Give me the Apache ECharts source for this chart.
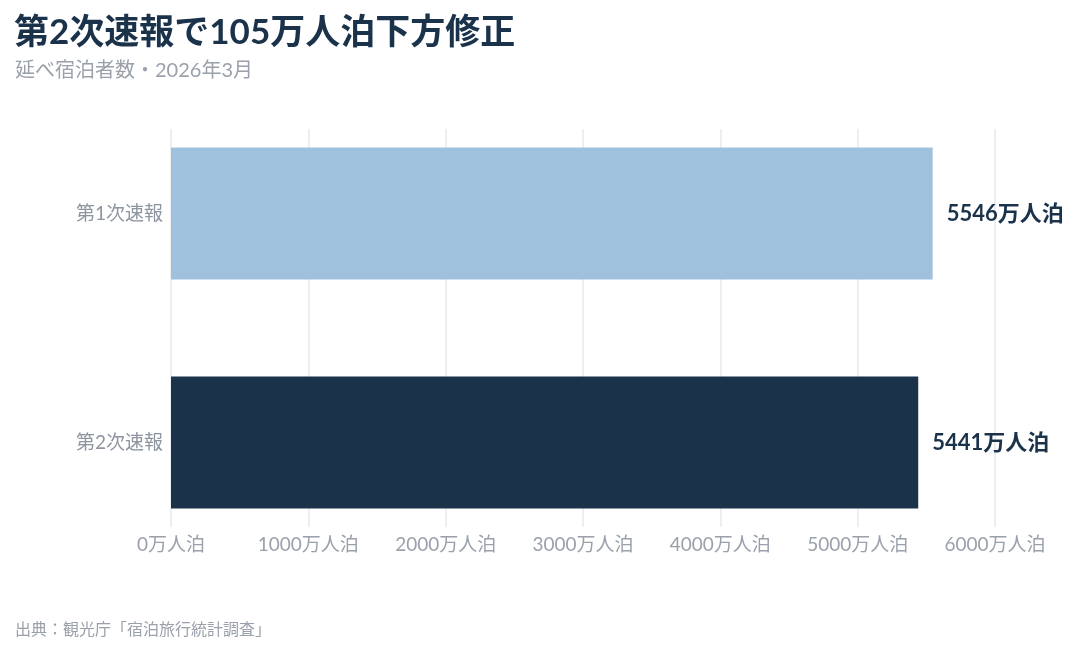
<!DOCTYPE html>
<html><head><meta charset="utf-8">
<script src="https://cdn.jsdelivr.net/npm/echarts@6/dist/echarts.min.js"></script>
<style>html,body{margin:0;padding:0;background:#fff}#c{width:1086px;height:649px}</style>
</head><body><div id="c"></div>
<script>
const categories = ['第1次速報', '第2次速報'];
const values = [5546, 5441];
const barColors = ['#a0c1dd', '#1b324b'];
const xTicks = [0, 1000, 2000, 3000, 4000, 5000, 6000];
const unit = '万人泊';
const FONT = 'Lato, "Noto Sans CJK JP", sans-serif';

const chart = echarts.init(document.getElementById('c'), null, {renderer: 'canvas'});
chart.setOption({
  backgroundColor: '#ffffff',
  animation: false,
  title: [
    {text: '第2次速報で105万人泊下方修正', left: 9, top: 10,
     textStyle: {fontFamily: FONT, fontSize: 35, fontWeight: 'bold', color: '#1b324b'}},
    {text: '延べ宿泊者数・2026年3月', left: 10, top: 56,
     textStyle: {fontFamily: FONT, fontSize: 20, fontWeight: 'normal', color: '#9aa1ab'}},
    {text: '出典：観光庁「宿泊旅行統計調査」', left: 10, top: 617,
     textStyle: {fontFamily: FONT, fontSize: 16, fontWeight: 'normal', color: '#9aa1ab'}}
  ],
  grid: [
    {left: 171, right: 91, top: 99, bottom: 92},
    {left: 171, right: 91, top: 129, bottom: 122}
  ],
  xAxis: [
    {type: 'value', gridIndex: 0, min: xTicks[0], max: xTicks[xTicks.length - 1], interval: 1000,
     show: false},
    {type: 'value', gridIndex: 1, min: xTicks[0], max: xTicks[xTicks.length - 1], interval: 1000,
     axisLine: {show: false}, axisTick: {show: false},
     splitLine: {show: true, lineStyle: {color: '#e6e9ed', width: 1.5}},
     axisLabel: {margin: 8, fontFamily: FONT, fontSize: 19, color: '#9aa1ab',
       formatter: v => v + unit}}
  ],
  yAxis: [
    {type: 'category', gridIndex: 0, data: categories, inverse: true,
     axisLine: {show: false}, axisTick: {show: false}, splitLine: {show: false},
     axisLabel: {margin: 8, fontFamily: FONT, fontSize: 19, color: '#8d95a0'}},
    {type: 'category', gridIndex: 1, data: categories, inverse: true, show: false}
  ],
  series: [{
    type: 'bar', xAxisIndex: 0, yAxisIndex: 0, barWidth: 132,
    data: values.map((v, i) => ({value: v, itemStyle: {color: barColors[i]}})),
    label: {show: true, position: 'right', distance: 14,
      fontFamily: FONT, fontSize: 22, fontWeight: 'bold', color: '#1b324b',
      formatter: p => p.value + unit}
  }]
});
</script></body></html>
